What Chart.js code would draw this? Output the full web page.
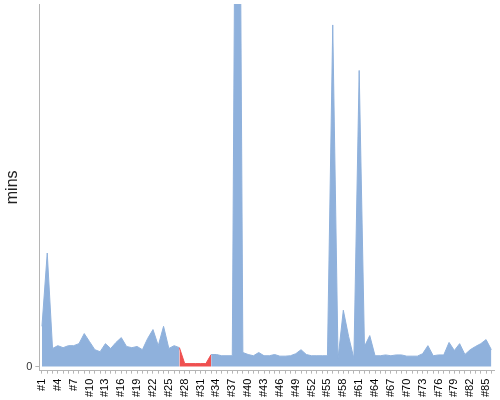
<!DOCTYPE html>
<html>
<head>
<meta charset="utf-8">
<script src="https://cdn.jsdelivr.net/npm/chart.js@4"></script>
<style>
  html, body { margin: 0; padding: 0; background: #fff; }
  #wrap { width: 500px; height: 400px; }
</style>
</head>
<body>
<div id="wrap"><canvas id="timeChart" width="500" height="400"></canvas></div>
<script>
// run ids on the x axis
const runs = [
    '#1', '#2', '#3', '#4', '#5', '#6', '#7', '#8', '#9', '#10',
    '#11', '#12', '#13', '#14', '#15', '#16', '#17', '#18', '#19', '#20',
    '#21', '#22', '#23', '#24', '#25', '#26', '#27', '#28', '#29', '#30',
    '#31', '#32', '#33', '#34', '#35', '#36', '#37', '#38', '#39', '#40',
    '#41', '#42', '#43', '#44', '#45', '#46', '#47', '#48', '#49', '#50',
    '#51', '#52', '#53', '#54', '#55', '#56', '#57', '#58', '#59', '#60',
    '#61', '#62', '#63', '#64', '#65', '#66', '#67', '#68', '#69', '#70',
    '#71', '#72', '#73', '#74', '#75', '#76', '#77', '#78', '#79', '#80',
    '#81', '#82', '#83', '#84', '#85', '#86'
];

// duration of each run, in minutes
const mins = [
    10, 28.2, 4.5, 5.2, 4.7, 5.2, 5.2, 5.7, 8.2, 6.2,
    4.2, 3.7, 5.7, 4.5, 6.0, 7.2, 5.0, 4.7, 5.0, 4.2,
    7.0, 9.2, 5.2, 10.0, 4.5, 5.2, 4.7, 0.75, 0.75, 0.75,
    0.75, 0.75, 3.0, 3.0, 2.7, 2.7, 2.7, 225, 3.5, 3.0,
    2.7, 3.5, 2.7, 2.7, 3.0, 2.6, 2.6, 2.7, 3.2, 4.2,
    3.0, 2.7, 2.7, 2.7, 2.7, 84.8, 2.0, 14.0, 7.5, 2.0,
    73.5, 5.0, 7.7, 2.7, 2.7, 2.9, 2.7, 2.9, 2.9, 2.6,
    2.6, 2.6, 3.2, 5.2, 2.7, 2.9, 2.9, 6.0, 4.0, 5.7,
    3.0, 4.2, 5.0, 5.7, 6.7, 4.2
];

const yTicks = [0];

const fillColor = '#8fb1dc';
const lowColor = '#ef5050';
const isLow = c => c.p0.parsed.y < 1 || c.p1.parsed.y < 1;

const ctx = document.getElementById('timeChart').getContext('2d');
const runChart = new Chart(ctx, {
    type: 'line',
    data: {
        labels: runs,
        datasets: [{
            label: 'mins',
            data: mins,
            fill: 'origin',
            backgroundColor: fillColor,
            borderColor: fillColor,
            borderWidth: 1,
            pointRadius: 0,
            tension: 0,
            segment: {
                backgroundColor: c => isLow(c) ? lowColor : undefined,
                borderColor: c => isLow(c) ? lowColor : undefined
            }
        }]
    },
    options: {
        responsive: false,
        animation: false,
        layout: {
            padding: { top: 4, right: 6, bottom: -2, left: 0 }
        },
        plugins: {
            legend: { display: false },
            tooltip: { enabled: false }
        },
        scales: {
            x: {
                offset: true,
                afterFit: axis => {
                    // no extra room for the rotated end labels
                    axis.paddingLeft = 0;
                    axis.paddingRight = 0;
                },
                grid: { offset: false, drawOnChartArea: false, tickLength: 3, color: '#b5b5b5' },
                border: { color: '#b5b5b5' },
                ticks: {
                    autoSkip: false,
                    minRotation: 90,
                    maxRotation: 90,
                    padding: 5,
                    color: '#000',
                    font: { family: 'Liberation Sans', size: 11 },
                    callback: (v, i) => i % 3 === 0 ? runs[i] : ''
                }
            },
            y: {
                min: -1,
                max: 90,
                afterBuildTicks: axis => {
                    axis.ticks = yTicks.map(v => ({ value: v }));
                },
                afterFit: axis => {
                    axis.paddingTop = 0;
                },
                grid: { drawOnChartArea: false, tickLength: 4, color: '#b5b5b5' },
                border: { color: '#b5b5b5' },
                ticks: {
                    color: '#333',
                    padding: 3,
                    font: { family: 'Liberation Sans', size: 11 }
                },
                title: {
                    display: true,
                    text: 'mins',
                    color: '#222',
                    padding: { top: 3, bottom: 1 },
                    font: { family: 'Liberation Sans', size: 16 }
                }
            }
        }
    }
});
</script>
</body>
</html>
